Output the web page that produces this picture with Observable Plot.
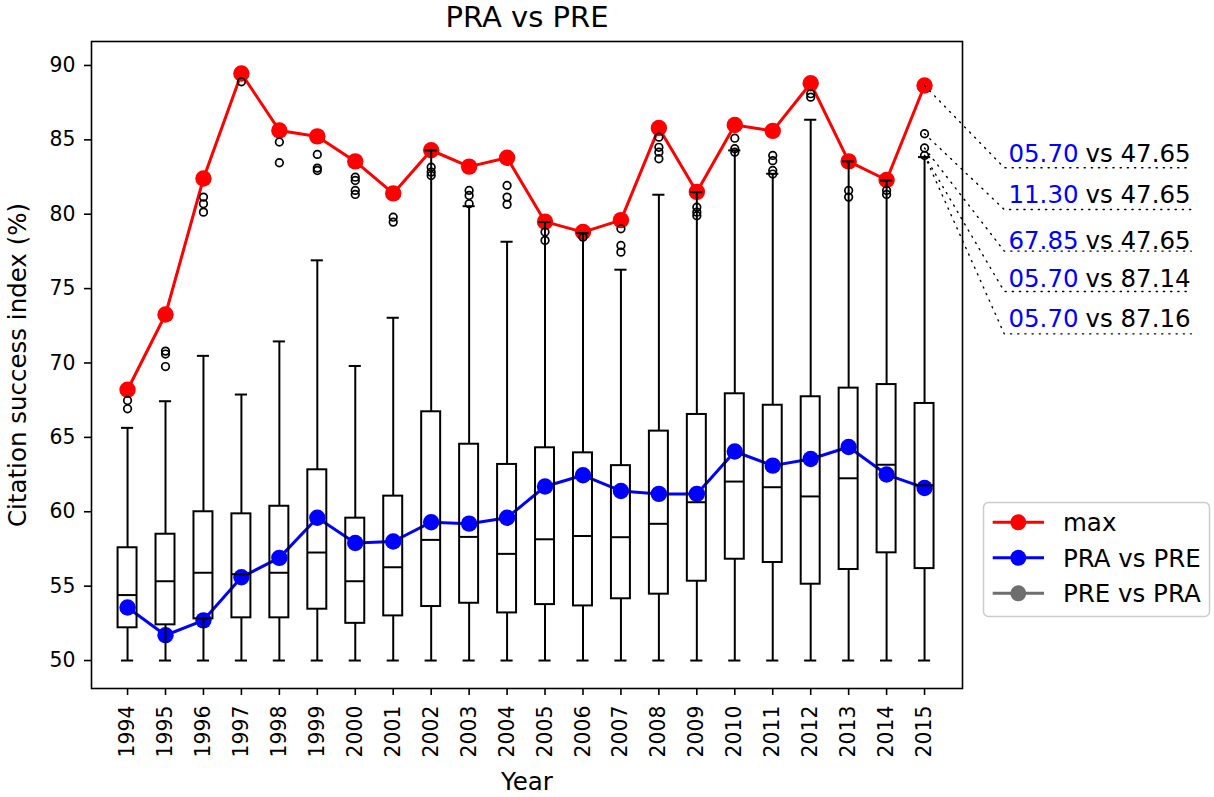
<!DOCTYPE html>
<html><head><meta charset="utf-8">
<script src="https://cdn.jsdelivr.net/npm/d3@7"></script>
<script src="https://cdn.jsdelivr.net/npm/@observablehq/plot@0.6"></script>
<style>
body{margin:0;background:#fff;}
#wrap{position:relative;width:1214px;height:797px;font-family:"DejaVu Sans";}
#legend{position:absolute;left:982px;top:501px;}
</style></head><body><div id="wrap"></div>
<script>
// ---- data ----
const years = [1994,1995,1996,1997,1998,1999,2000,2001,2002,2003,2004,2005,2006,2007,2008,2009,2010,2011,2012,2013,2014,2015];
const maxVals = [68.2,73.26,82.4,89.46,85.63,85.23,83.55,81.4,84.3,83.2,83.8,79.5,78.8,79.6,85.8,81.5,86.0,85.6,88.8,83.55,82.3,88.65];
const praVsPre = [53.56,51.7,52.7,55.6,56.9,59.6,57.9,58.0,59.3,59.2,59.6,61.7,62.45,61.4,61.2,61.2,64.05,63.1,63.55,64.35,62.5,61.6];
const q1 = [52.2,52.4,52.8,52.87,52.87,53.45,52.5,53.0,53.63,53.85,53.2,53.76,53.67,54.15,54.46,55.33,56.81,56.59,55.13,56.12,57.24,56.18];
const median = [54.4,55.33,55.9,55.8,55.9,57.26,55.33,56.27,58.11,58.31,57.17,58.15,58.37,58.29,59.19,60.64,62.03,61.65,61.03,62.25,63.16,61.78];
const q3 = [57.58,58.49,60.0,59.86,60.37,62.82,59.57,61.05,66.72,64.54,63.18,64.3,63.96,63.1,65.42,66.54,67.93,67.16,67.73,68.31,68.55,67.28];
const whiskerLow = [50,50,50,50,50,50,50,50,50,50,50,50,50,50,50,50,50,50,50,50,50,50];
const whiskerHigh = [65.64,67.43,70.48,67.88,71.45,76.9,69.8,73.04,84.29,80.54,78.15,79.47,78.73,76.27,81.31,81.48,84.29,82.72,86.35,83.55,82.27,83.84];
const outliers = [
  [67.48,66.92],[70.8,70.6,69.76],[81.15,80.7,80.14],[88.9],[84.85,83.46],[84.02,83.1,82.94],
  [82.49,82.27,81.6,81.33],[79.8,79.47],[83.16,82.83,82.6],[81.6,81.26,80.7],[81.93,81.15,80.66],
  [78.8,78.24],[78.46],[79.02,77.9,77.45],[85.18,84.5,84.17,83.73],[80.47,80.14,79.9],
  [85.11,84.4,84.17],[83.95,83.6,82.94,82.7],[88.1,87.87],[81.6,81.15],[81.6,81.33],[85.41,84.45,83.95]
];
const yTicks = [50,55,60,65,70,75,80,85,90];
// annotations
const annoLabelA = ["05.70","11.30","67.85","05.70","05.70"];
const annoLabelB = ["vs 47.65","vs 47.65","vs 47.65","vs 87.14","vs 87.16"];
const annoFromX = [2015,2015,2015,2015,2015];
const annoFromY = [88.65,85.41,84.45,83.95,83.95];
const annoTextX = [2017.21,2017.21,2017.21,2017.21,2017.21];
const annoTextY = [83.5,80.74,77.68,75.14,72.41];
const annoLineX1 = [2017.1,2017.1,2017.1,2017.1,2017.1];
const annoLineX2 = [2022.03,2022.03,2022.03,2022.03,2022.03];
const annoLineY = [83.12,80.32,77.52,74.81,71.96];
// legend
const legendLabels = ["max","PRA vs PRE","PRE vs PRA"];
const legendColors = ["red","blue","#6e6e6e"];

// ---- build ----
const boxHalf = 0.25, capHalf = 0.16, lw = 2;
const boxes = years.map((y,i)=>({year:y,q1:q1[i],med:median[i],q3:q3[i],lo:whiskerLow[i],hi:whiskerHigh[i]}));
const maxData = years.map((y,i)=>({year:y,v:maxVals[i]}));
const meanData = years.map((y,i)=>({year:y,v:praVsPre[i]}));
const outlierData = years.flatMap((y,i)=>outliers[i].map(v=>({year:y,v})));
const anno = annoLabelA.map((a,i)=>({a,b:annoLabelB[i],tx:annoTextX[i],ty:annoTextY[i]}));
const annoPaths = anno.flatMap((d,i)=>[
  {id:i,x:annoFromX[i],y:annoFromY[i]},
  {id:i,x:annoLineX1[i],y:annoLineY[i]},
  {id:i,x:annoLineX2[i],y:annoLineY[i]}
]);

const chart = Plot.plot({
  width:1214, height:797,
  marginLeft:91, marginRight:252, marginTop:41, marginBottom:109,
  style:{fontFamily:"DejaVu Sans", fontSize:"20.4px", color:"black", background:"white", overflow:"visible"},
  x:{domain:[1993.05,2016]},
  y:{domain:[48.12,91.61]},
  marks:[
    Plot.axisX({ticks:years, tickFormat:"d", tickRotate:-90, tickSize:7, tickPadding:10, label:null, strokeWidth:1.6}),
    Plot.axisY({ticks:yTicks, tickSize:7, tickPadding:9, label:null, strokeWidth:1.6}),
    Plot.line(maxData,{x:"year",y:"v",stroke:"red",strokeWidth:3}),
    Plot.dot(maxData,{x:"year",y:"v",fill:"red",r:8.2}),
    Plot.line(meanData,{x:"year",y:"v",stroke:"blue",strokeWidth:3}),
    Plot.dot(meanData,{x:"year",y:"v",fill:"blue",r:8.2}),
    Plot.ruleX(boxes,{x:"year",y1:"lo",y2:"q1",stroke:"black",strokeWidth:lw}),
    Plot.ruleX(boxes,{x:"year",y1:"q3",y2:"hi",stroke:"black",strokeWidth:lw}),
    Plot.ruleY(boxes,{y:"lo",x1:d=>d.year-capHalf,x2:d=>d.year+capHalf,stroke:"black",strokeWidth:lw}),
    Plot.ruleY(boxes,{y:"hi",x1:d=>d.year-capHalf,x2:d=>d.year+capHalf,stroke:"black",strokeWidth:lw}),
    Plot.rect(boxes,{x1:d=>d.year-boxHalf,x2:d=>d.year+boxHalf,y1:"q1",y2:"q3",fill:"none",stroke:"black",strokeWidth:lw}),
    Plot.ruleY(boxes,{y:"med",x1:d=>d.year-boxHalf,x2:d=>d.year+boxHalf,stroke:"black",strokeWidth:lw}),
    Plot.dot(outlierData,{x:"year",y:"v",r:3.8,stroke:"black",strokeWidth:1.7,fill:"none"}),
    Plot.line(annoPaths,{x:"x",y:"y",z:"id",stroke:"black",strokeWidth:1.4,strokeDasharray:"1.2,6",strokeLinecap:"round"}),
    Plot.text(anno,{x:"tx",y:"ty",text:"a",fill:"blue",textAnchor:"start",lineAnchor:"bottom",fontSize:24.5}),
    Plot.text(anno,{x:"tx",y:"ty",text:"b",fill:"black",textAnchor:"start",lineAnchor:"bottom",fontSize:24.5,dx:77}),
    Plot.frame({stroke:"black",strokeWidth:1.6}),
    Plot.text(["PRA vs PRE"],{text:d=>d,frameAnchor:"top",dy:-15,lineAnchor:"bottom",fontSize:29}),
    Plot.text(["Year"],{text:d=>d,frameAnchor:"bottom",dy:101,lineAnchor:"bottom",fontSize:24.5}),
    Plot.text(["Citation success index (%)"],{text:d=>d,frameAnchor:"left",dx:-73,rotate:-90,textAnchor:"middle",lineAnchor:"middle",fontSize:24.5})
  ]
});
const wrap = document.getElementById("wrap");
wrap.appendChild(chart);

// legend
const lg = d3.select(wrap).append("svg").attr("id","legend").attr("width",230).attr("height",118)
  .style("font-family","DejaVu Sans");
lg.append("rect").attr("x",1.5).attr("y",1.5).attr("width",226).attr("height",114).attr("rx",5)
  .attr("fill","white").attr("stroke","#cccccc").attr("stroke-width",1.5);
legendLabels.forEach((lab,i)=>{
  const cy = 21.3 + i*35.5;
  lg.append("line").attr("x1",10.7).attr("x2",62).attr("y1",cy).attr("y2",cy)
    .attr("stroke",legendColors[i]).attr("stroke-width",3);
  lg.append("circle").attr("cx",36.3).attr("cy",cy).attr("r",8).attr("fill",legendColors[i]);
  lg.append("text").attr("x",81).attr("y",cy+9).attr("font-size",24.5).attr("fill","black").text(lab);
});
</script></body></html>
